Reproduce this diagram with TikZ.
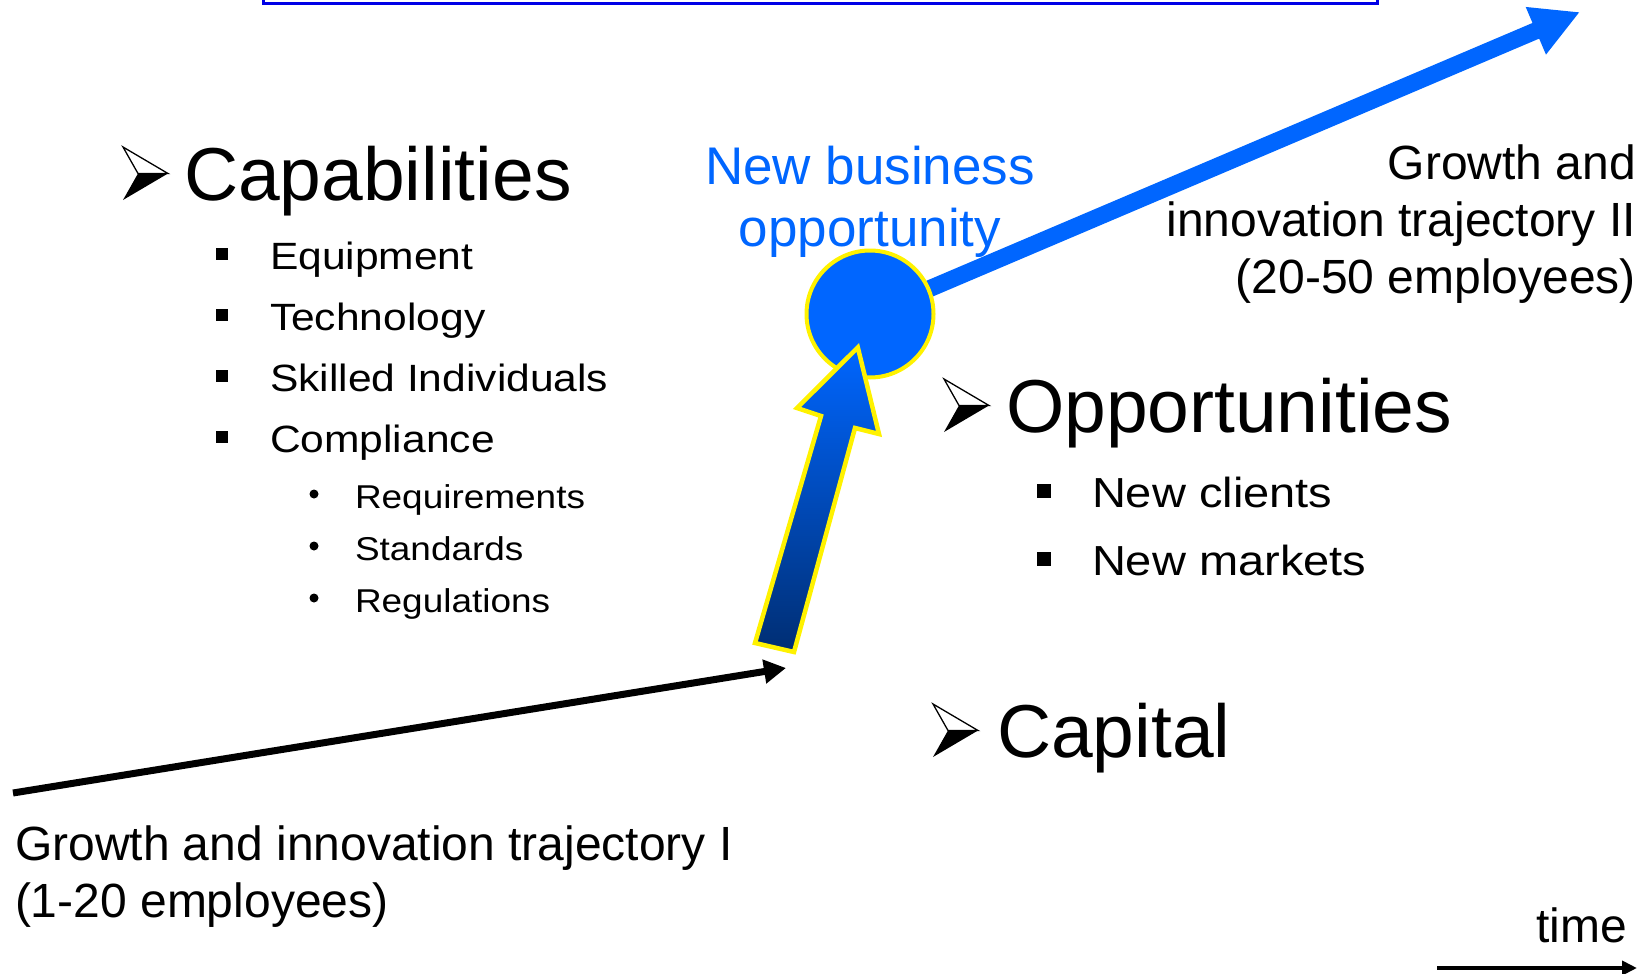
\documentclass[tikz,border=0pt]{standalone}
\usepackage{fontspec}
\setmainfont{Liberation Sans}
\newfontfamily\widesans[FakeStretch=1.12]{Liberation Sans}
\usetikzlibrary{arrows.meta}
\definecolor{oppblue}{RGB}{0,102,255}
\definecolor{boxblue}{RGB}{0,0,230}
\definecolor{navyend}{RGB}{0,46,115}
\definecolor{midblue}{RGB}{0,82,210}
\tikzset{
  abullet/.pic={
    \filldraw[fill=white, draw=black, line width=1.3pt, line join=miter] (0,0) -- (45,26.5) -- (15,26.5) -- cycle;
    \fill[black] (15,26.5) -- (45,26.5) -- (0,53) -- cycle;
  }
}
\begin{document}
\begin{tikzpicture}[x=1pt,y=-1pt,
  lbl/.style={inner sep=0pt, outer sep=0pt, text=black},
  hdtext/.style={lbl, anchor=base west, font=\fontsize{75}{90}\selectfont},
  itemtext/.style={lbl, anchor=base west, font=\widesans\fontsize{38}{46}\selectfont},
  subtext/.style={lbl, anchor=base west, font=\widesans\fontsize{33}{40}\selectfont},
  oitemtext/.style={lbl, anchor=base west, font=\widesans\fontsize{42}{50}\selectfont},
  bigtext/.style={lbl, font=\fontsize{48}{57}\selectfont},
  sqbullet/.style={fill=black},
  dotbullet/.style={fill=black},
  trajarrow/.style={line width=7pt, -{Triangle[length=22pt,width=23pt]}},
  bluearrow/.style={oppblue, line width=17pt, -{Triangle[length=48pt,width=48pt]}},
  timearrow/.style={line width=4pt, -{Triangle[length=15pt,width=14pt]}}
]
\useasboundingbox (0,0) rectangle (1652,974);

% partly visible box at top
\node[draw=boxblue, line width=3pt, minimum width=1114pt, minimum height=60pt,
      anchor=south west, inner sep=0pt] (topbox) at (262,5) {};

% trajectory I arrow
\coordinate (t1start) at (13,793);
\coordinate (t1end) at (786,668);
\draw[trajarrow] (t1start) -- (t1end);

% trajectory II arrow
\coordinate (oppc) at (870,314);
\coordinate (t2end) at (1580,12);
\draw[bluearrow] (oppc) -- (t2end);

% opportunity circle
\node[circle, fill=oppblue, draw=yellow, line width=4pt, minimum size=127pt, inner sep=0pt] (opp) at (oppc) {};

% gradient block arrow
\path[draw=yellow, line width=4.5pt, line join=miter,
      top color=oppblue, middle color=midblue, bottom color=navyend]
  (857.8,347.4) -- (879,434) -- (855,428) -- (794,652) -- (755,643) -- (821,416) -- (797,408) -- cycle;

% New business opportunity (base = last line)
\node[lbl, text=oppblue, align=center, anchor=base, font=\fontsize{53}{62}\selectfont] (nbo) at (870,246) {New business\\opportunity};

% Capabilities
\pic at (123,147) {abullet};
\node[hdtext] (cap) at (184,200) {Capabilities};
\fill[sqbullet] (216,247.5) rectangle (228,259.5);
\node[itemtext] (equip) at (270,269) {Equipment};
\fill[sqbullet] (216,308.5) rectangle (228,320.5);
\node[itemtext] (tech) at (270,330) {Technology};
\fill[sqbullet] (216,369.5) rectangle (228,381.5);
\node[itemtext] (skill) at (270,391) {Skilled Individuals};
\fill[sqbullet] (216,430.5) rectangle (228,442.5);
\node[itemtext] (compl) at (270,452) {Compliance};
\fill[dotbullet] (314,494) circle (4.5);
\node[subtext] (req) at (355,508) {Requirements};
\fill[dotbullet] (314,546) circle (4.5);
\node[subtext] (std) at (355,560) {Standards};
\fill[dotbullet] (314,598) circle (4.5);
\node[subtext] (reg) at (355,612) {Regulations};

% Opportunities
\pic at (944,379) {abullet};
\node[hdtext] (opps) at (1006,432) {Opportunities};
\fill[sqbullet] (1037,484) rectangle (1051,498);
\node[oitemtext] (clients) at (1092,507) {New clients};
\fill[sqbullet] (1037,552) rectangle (1051,566);
\node[oitemtext] (markets) at (1092,575) {New markets};

% Capital
\pic at (933,704) {abullet};
\node[hdtext] (capital) at (997,757) {Capital};

% trajectory texts (base = last line)
\node[bigtext, align=right, anchor=base east] (traj2) at (1636,293) {Growth and\\innovation trajectory II\\(20-50 employees)};
\node[bigtext, align=left, anchor=base west] (traj1) at (15,917) {Growth and innovation trajectory I\\(1-20 employees)};

% time
\node[lbl, anchor=base east, font=\fontsize{48}{58}\selectfont] (time) at (1627,942) {time};
\coordinate (tstart) at (1437,968);
\coordinate (tend) at (1637,968);
\draw[timearrow] (tstart) -- (tend);
\end{tikzpicture}
\end{document}
